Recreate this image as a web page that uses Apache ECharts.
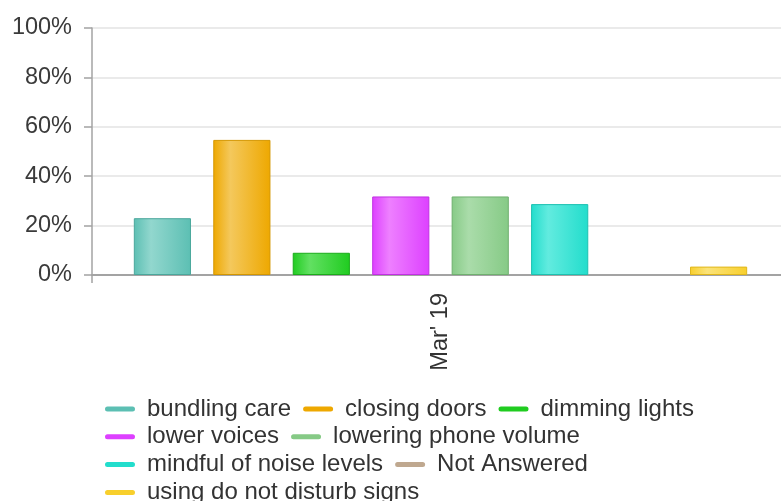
<!DOCTYPE html>
<html>
<head>
<meta charset="utf-8">
<script src="https://cdn.jsdelivr.net/npm/echarts@6/dist/echarts.min.js"></script>
<style>
  html, body { margin: 0; padding: 0; background: #fff; overflow: hidden; }
  /* the plot runs slightly past the right edge of the window */
  #chart { width: 789px; height: 501px; }
</style>
</head>
<body>
<div id="chart"></div>
<script>
// Survey period shown on the category axis
const categories = ["Mar' 19"];

// Response names, in legend order
const seriesNames = [
  'bundling care',
  'closing doors',
  'dimming lights',
  'lower voices',
  'lowering phone volume',
  'mindful of noise levels',
  'Not Answered',
  'using do not disturb signs'
];

// Percentage of responses per option
const seriesValues = [
  [23],
  [54.7],
  [9],
  [31.8],
  [31.8],
  [28.7],
  [0],
  [3.4]
];

// Value axis tick labels
const yTicks = [0, 20, 40, 60, 80, 100];

// How many legend entries sit on each legend row
const legendRows = [3, 2, 2, 1];

// Fill palette: base tone, highlight tone, outline tone
const palette = [
  { base: '#5cbfb3', light: '#92d7ce', edge: '#4aa79c' },
  { base: '#eea800', light: '#f4c85c', edge: '#d49600' },
  { base: '#20cc20', light: '#62e062', edge: '#1aac1a' },
  { base: '#dd40ff', light: '#ee80ff', edge: '#c130e2' },
  { base: '#86ca86', light: '#aadcaa', edge: '#6fb06f' },
  { base: '#22ddcc', light: '#62ebdf', edge: '#1cc1b1' },
  { base: '#bfa88f', light: '#d5c4b2', edge: '#a8917a' },
  { base: '#f8cf2c', light: '#fbe37a', edge: '#e0b71c' }
];

const FONT = 23.5;
const LEGEND_FONT = 24;

// Rounded swatch 30 wide, followed by an empty stretch that spaces the label
const SWATCH = 'path://M2.5,0 L27.5,0 A2.5,2.5 0 0 1 27.5,5 L2.5,5 A2.5,2.5 0 0 1 2.5,0 Z M37,0 L37,5 Z';

function barFill(c) {
  return {
    type: 'linear', x: 0, y: 0, x2: 1, y2: 0,
    colorStops: [
      { offset: 0, color: c.base },
      { offset: 0.3, color: c.light },
      { offset: 1, color: c.base }
    ]
  };
}

const series = seriesNames.map((name, i) => {
  const empty = seriesValues[i].every(v => v === 0);
  return {
    name: name,
    type: 'bar',
    data: seriesValues[i],
    barGap: '39%',
    barCategoryGap: '12%',
    itemStyle: {
      color: barFill(palette[i]),
      borderColor: palette[i].edge,
      borderWidth: empty ? 0 : 1
    },
    emphasis: { disabled: true }
  };
});

// One legend block per row, stacked 28px apart
const legends = [];
let start = 0;
legendRows.forEach((count, r) => {
  const names = seriesNames.slice(start, start + count);
  legends.push({
    left: 100,
    top: 392 + r * 27.8,
    orient: 'horizontal',
    itemWidth: 37,
    itemHeight: 5,
    itemGap: 12,
    icon: SWATCH,
    selectedMode: false,
    textStyle: { fontSize: LEGEND_FONT, color: '#333333' },
    data: names.map(n => {
      const i = seriesNames.indexOf(n);
      return { name: n, itemStyle: { color: palette[i].base, borderWidth: 0 } };
    })
  });
  start += count;
});

const chart = echarts.init(document.getElementById('chart'), null, { renderer: 'canvas' });

chart.setOption({
  animation: false,
  backgroundColor: '#ffffff',
  textStyle: { fontFamily: '"Liberation Sans", Arial, sans-serif' },
  grid: { left: 92, top: 28, right: 0, bottom: 226, containLabel: false },
  legend: legends,
  xAxis: {
    type: 'category',
    data: categories,
    axisLine: { show: true, lineStyle: { color: '#a3a3a3', width: 2 } },
    axisTick: { show: true, length: 8, lineStyle: { color: '#a3a3a3', width: 1.5 } },
    axisLabel: { rotate: 90, margin: 18, fontSize: FONT, color: '#333333' },
    splitLine: { show: false }
  },
  yAxis: {
    type: 'value',
    min: yTicks[0],
    max: yTicks[yTicks.length - 1],
    interval: yTicks[1] - yTicks[0],
    axisLine: { show: true, lineStyle: { color: '#a3a3a3', width: 1.5 } },
    axisTick: { show: true, length: 8, lineStyle: { color: '#a3a3a3', width: 1.5 } },
    axisLabel: { formatter: '{value}%', fontSize: FONT, margin: 20, color: '#3a3a3a' },
    splitLine: { show: true, lineStyle: { color: '#e3e3e3', width: 1.5 } }
  },
  series: series
});
</script>
</body>
</html>
